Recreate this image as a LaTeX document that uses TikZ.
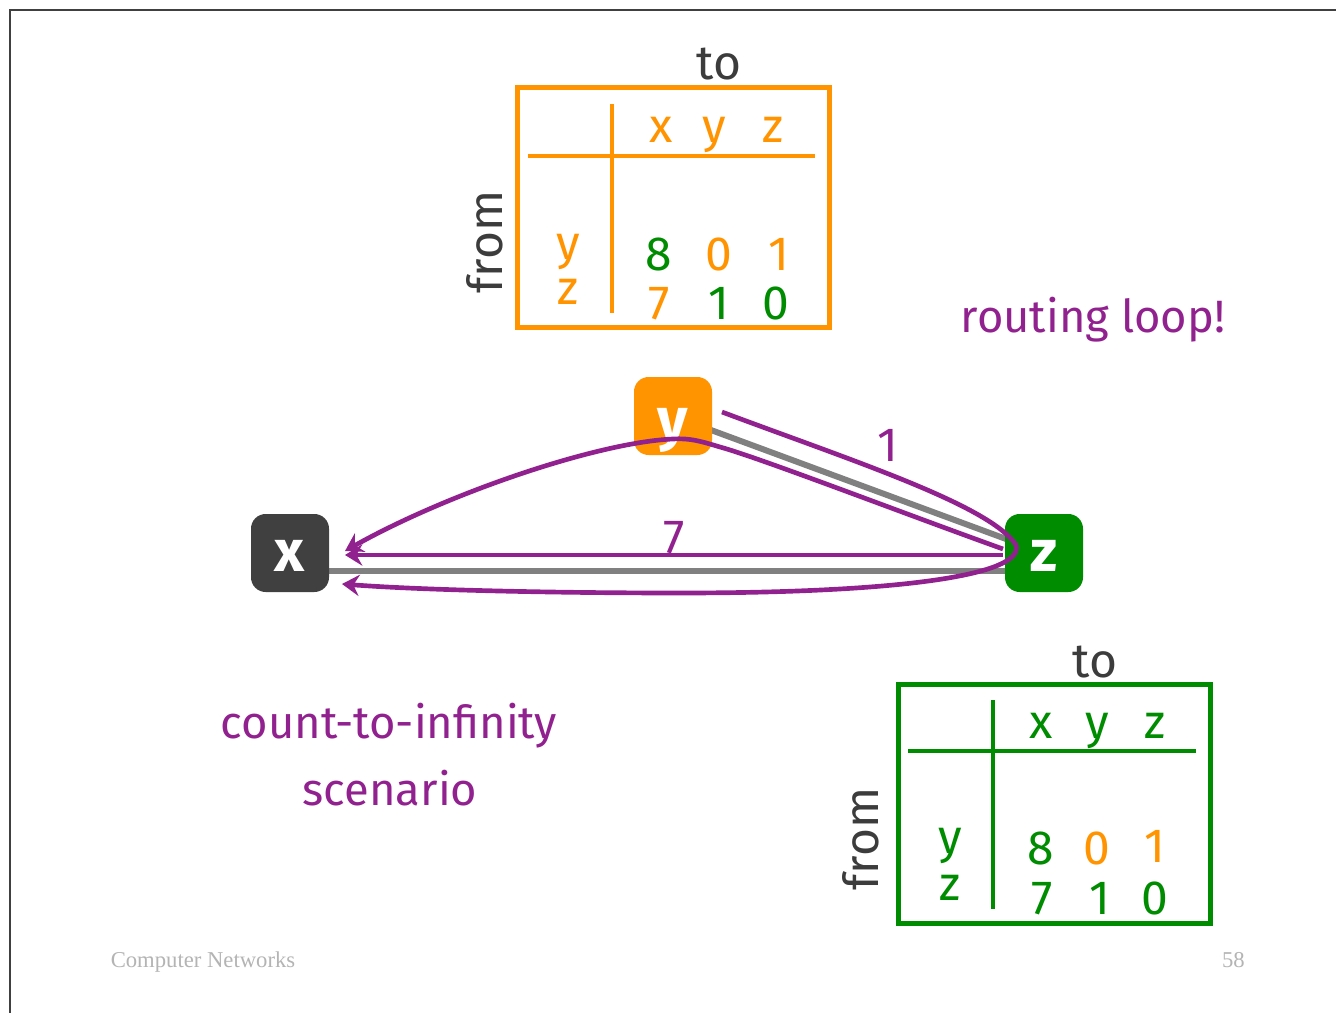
\documentclass[tikz,border=0pt]{standalone}
\usepackage{fontspec}
\setmainfont{Fira Sans}
\newfontfamily\footfont{Liberation Serif}
\usetikzlibrary{arrows.meta}
\definecolor{org}{HTML}{FF9400}
\definecolor{grn}{HTML}{008C00}
\definecolor{purp}{HTML}{922190}
\definecolor{xgray}{HTML}{404040}
\definecolor{lgray}{HTML}{808080}
\definecolor{txtgray}{HTML}{3C3C3C}
\definecolor{footgray}{HTML}{B4B4B4}
\tikzset{
  rbox/.style={rounded corners=11pt, minimum width=58.5pt, minimum height=58.5pt, inner sep=0pt, text=white, text height=23pt, text depth=0pt, font=\fontsize{44}{44}\selectfont\bfseries},
  tbl/.style={line width=3.75pt, minimum width=234pt, minimum height=179.25pt, inner sep=0pt},
  tline/.style={line width=2.5pt},
  tt/.style={anchor=base, inner sep=0pt, font=\fontsize{36}{36}\selectfont},
  bigtxt/.style={anchor=base, inner sep=0pt, text=purp, font=\fontsize{34}{34}\selectfont},
  link/.style={lgray, line width=4.5pt},
  route/.style={purp, line width=3.5pt, -{Stealth[length=13pt,width=16pt,inset=4.5pt]}},
  foot/.style={anchor=base, inner sep=0pt, text=footgray, font=\footfont\fontsize{17}{17}\selectfont}
}
\begin{document}
\begin{tikzpicture}[x=0.75pt,y=-0.75pt]
\useasboundingbox (0,0) rectangle (1336,1013);
\fill[white] (0,0) rectangle (1336,1013);
\draw[xgray, line width=0.9pt] (10,1013) -- (10,10) -- (1336,10);

% ---------- orange table (node y)
\node[tbl, draw=org] (t1) at (673,207.5) {};
\node[tt, text=txtgray] (t1to) at (719,80) {to};
\node[tt, text=txtgray, rotate=90] (t1from) at (502,242) {from};
\draw[tline, org] (612,104) -- (612,313);
\draw[tline, org] (528,156) -- (815,156);
\node[tt, text=org] (t1hx) at (661,143) {x};
\node[tt, text=org] (t1hy) at (714,143) {y};
\node[tt, text=org] (t1hz) at (773,143) {z};
\node[tt, text=org] (t1ry) at (568,259) {y};
\node[tt, text=org] (t1rz) at (568,305) {z};
\node[tt, text=grn] (t1a) at (659,271) {8};
\node[tt, text=org] (t1b) at (719,271) {0};
\node[tt, text=org] (t1c) at (779,271) {1};
\node[tt, text=org] (t1d) at (659,320) {7};
\node[tt, text=grn] (t1e) at (719,320) {1};
\node[tt, text=grn] (t1f) at (776,320) {0};

% ---------- green table (node z)
\node[tbl, draw=grn] (t2) at (1054.5,804) {};
\node[tt, text=txtgray] (t2to) at (1095,677) {to};
\node[tt, text=txtgray, rotate=90] (t2from) at (878,839) {from};
\draw[tline, grn] (993,700) -- (993,909);
\draw[tline, grn] (908,751) -- (1196,751);
\node[tt, text=grn] (t2hx) at (1041,738) {x};
\node[tt, text=grn] (t2hy) at (1097,738) {y};
\node[tt, text=grn] (t2hz) at (1155,738) {z};
\node[tt, text=grn] (t2ry) at (950,853) {y};
\node[tt, text=grn] (t2rz) at (950,900) {z};
\node[tt, text=grn] (t2a) at (1041,864) {8};
\node[tt, text=org] (t2b) at (1097,864) {0};
\node[tt, text=org] (t2c) at (1155,862) {1};
\node[tt, text=grn] (t2d) at (1042,914) {7};
\node[tt, text=grn] (t2e) at (1100,914) {1};
\node[tt, text=grn] (t2f) at (1155,914) {0};

% ---------- routers
\coordinate (xc) at (290,553);
\coordinate (yc) at (673,416);
\coordinate (zc) at (1044,553);
\draw[link] (yc) -- (zc);
\draw[link] ([yshift=-13.5pt]xc) -- ([yshift=-13.5pt]zc);
\node[rbox, fill=xgray] (x) at (xc) {\raisebox{-2pt}{x}};
\node[rbox, fill=org] (y) at (yc) {\raisebox{-6pt}{y}};
\node[rbox, fill=grn] (z) at (zc) {\raisebox{-2pt}{z}};

% ---------- routing paths
\coordinate (p1s) at (722,412);
\coordinate (p1e) at (342,584);
\coordinate (p2s) at (1003,549);
\coordinate (p2e) at (345,551);
\coordinate (p3s) at (1003,555);
\coordinate (p3e) at (345,555);
\draw[route] (p1s) .. controls (850,460) and (990,505) .. (1016,545)
  .. controls (1025,575) and (900,593) .. (680,593)
  .. controls (550,593) and (420,590) .. (p1e);
\draw[route] (p2s) .. controls (900,512) and (760,458) .. (720,447)
  .. controls (700,441) and (690,438) .. (673,439)
  .. controls (600,442) and (450,492) .. (p2e);
\draw[route] (p3s) -- (p3e);

\node[bigtxt, anchor=center, font=\fontsize{36}{36}\selectfont] (l1) at (888,445) {1};
\node[bigtxt, anchor=center, font=\fontsize{36}{36}\selectfont] (l7) at (674,538) {7};

% ---------- captions
\node[bigtxt] (loop) at (1093,332) {routing loop!};
\node[bigtxt] (cti) at (389,738) {count-to-infinity};
\node[bigtxt] (scen) at (390,805) {scenario};

\node[foot] (f1) at (203,967) {Computer Networks};
\node[foot, anchor=base east] (f2) at (1245,967) {58};
\end{tikzpicture}
\end{document}
